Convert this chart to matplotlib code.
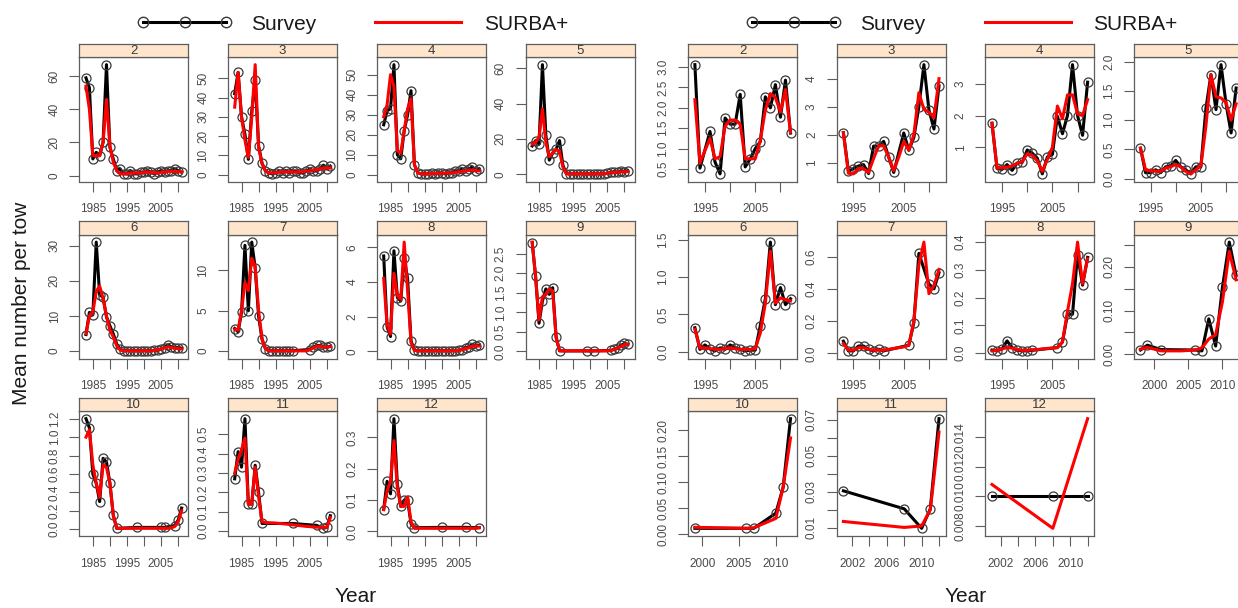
import numpy as np
import matplotlib
matplotlib.use("Agg")
import matplotlib.pyplot as plt
from matplotlib.lines import Line2D

plt.rcParams['font.family'] = ['Liberation Sans', 'DejaVu Sans']

nan = np.nan

# ------------------------------------------------------------------
# Left block: survey index vs SURBA+ fit by age, 1983-2011
# ------------------------------------------------------------------
left_years = list(range(1983, 2012))

left_survey_2 = [59, 53, 10, 14, 12, 20, 67, 17, 10, 3, 4, 1, 1, 3, 1, 1, 2, 2, 3, 2,
                 1, 2, 3, 2, 3, 3, 4, 3, 2]
left_model_2 = [54, 40, 12, 12, 12, 20, 46, 18, 8, 3, 1, 1, 1, 1.5, 1.5, 1.5, 1.5, 2, 2, 2,
                1.5, 1.5, 2, 2, 2.5, 2.5, 2.5, 2.5, 2]

left_survey_3 = [42, 53, 30, 21, 8, 33, 49, 15, 6, 2, 1, 0.5, 1, 2, 1, 2, 1, 2, 2, 1,
                 1, 2, 3, 2, 2, 3, 5, 3, 4.5]
left_model_3 = [35, 53, 30, 18, 9, 30, 57, 14, 6, 2, 1, 1, 1, 1.5, 1.5, 1.5, 1.5, 1.5, 1.5, 1.5,
                1.5, 2, 2, 2.5, 2.5, 3, 3.5, 3.5, 3.5]

left_survey_4 = [25, 32, 33, 55, 10, 8, 22, 30, 42, 5, 1, 0.5, 0.5, 0.5, 1, 0.5, 1, 1, 0.5, 1,
                 1, 2, 2, 3, 2, 3, 4, 2, 3]
left_model_4 = [29, 35, 50, 44, 12, 11, 22, 33, 38, 5, 1, 0.5, 0.5, 0.5, 0.7, 0.7, 0.8, 0.8, 0.8, 1,
                1, 1.2, 1.5, 1.8, 2, 2.2, 2.5, 2, 2]

left_survey_5 = [16, 19, 17, 62, 22, 8, 12, 14, 19, 5, 0.3, 0.2, 0.2, 0.2, 0.2, 0.2, 0.2, 0.2, 0.2, 0.2,
                 0.2, 0.3, 0.5, 1, 1.5, 1, 2, 1.5, 2]
left_model_5 = [17, 18, 21, 37, 18, 10, 12, 14, 13, 4, 0.3, 0.2, 0.2, 0.2, 0.2, 0.2, 0.2, 0.2, 0.2, 0.2,
                0.2, 0.3, 0.5, 0.8, 1, 1.2, 1.3, 1.4, 1.5]

left_survey_6 = [4.7, 11, 10.3, 31, 16, 15.3, 9.7, 7.2, 4.9, 2, 0.5, 0.1, 0.1, 0.1, 0.1, 0.1, 0.1, 0.1,
                 0.1, 0.1, 0.2, 0.3, 0.6, 1.0, 1.8, 1.2, 1.0, 1.0, 0.8]
left_model_6 = [5, 10, 11, 17, 18.5, 15, 10, 6, 4, 1.5, 0.3, 0.05, 0.05, 0.05, 0.05, 0.05, 0.05, 0.05,
                0.05, 0.05, 0.2, 0.4, 0.6, 0.9, 1.2, 1.0, 0.8, 0.7, 0.6]

left_survey_7 = [2.8, 2.4, 4.8, 13.1, 5, 13.5, 10.3, 4.3, 1.5, 0.3, 0.05, 0.05, 0.05, 0.05, 0.05, 0.05,
                 0.05, 0.05, nan, nan, nan, nan, 0.2, 0.5, 0.7, 0.7, 0.5, 0.5, 0.6]
left_model_7 = [2.7, 2.6, 5, 8.5, 7.5, 11.5, 10.5, 5, 1.5, 0.3, 0.03, 0.03, 0.03, 0.03, 0.03, 0.03,
                0.03, 0.03, 0.03, 0.03, 0.03, 0.03, 0.15, 0.4, 0.6, 0.6, 0.5, 0.5, 0.55]

left_survey_8 = [5.5, 1.4, 0.85, 5.8, 3.1, 2.9, 5.4, 4.2, 0.6, 0.05, 0.03, 0.03, 0.03, 0.03, 0.03, 0.03,
                 0.03, 0.03, 0.03, 0.03, 0.03, 0.03, 0.05, 0.1, 0.2, 0.25, 0.4, 0.3, 0.35]
left_model_8 = [4.2, 1.5, 1.0, 4.5, 3.2, 3.0, 6.3, 3.5, 0.5, 0.05, 0.02, 0.02, 0.02, 0.02, 0.02, 0.02,
                0.02, 0.02, 0.02, 0.02, 0.02, 0.02, 0.05, 0.1, 0.15, 0.2, 0.3, 0.3, 0.3]

left_survey_9 = [2.79, 1.92, 0.72, 1.29, 1.6, 1.46, 1.63, 0.37, 0.01, nan, nan, nan, nan, nan, nan, nan,
                 0.01, nan, 0.01, nan, nan, nan, nan, 0.02, 0.05, 0.08, 0.15, 0.2, 0.18]
left_model_9 = [2.8, 1.9, 0.8, 1.4, 1.45, 1.6, 1.55, 0.35, 0.02, 0.01, 0.01, 0.01, 0.01, 0.01, 0.01, 0.01,
                0.01, 0.01, 0.01, 0.01, 0.01, 0.01, 0.01, 0.02, 0.05, 0.08, 0.12, 0.17, 0.18]

left_survey_10 = [1.2, 1.1, 0.6, 0.5, 0.3, 0.77, 0.73, 0.5, 0.15, 0.01, nan, nan, nan, nan, nan, 0.02,
                  nan, nan, nan, nan, nan, nan, 0.02, 0.02, nan, nan, 0.04, 0.1, 0.23]
left_model_10 = [1.0, 1.08, 0.7, 0.5, 0.35, 0.7, 0.67, 0.5, 0.15, 0.01, 0.01, 0.01, 0.01, 0.01, 0.01, 0.01,
                 0.01, 0.01, 0.01, 0.01, 0.01, 0.01, 0.01, 0.01, 0.01, 0.015, 0.03, 0.08, 0.2]

left_survey_11 = [0.27, 0.41, 0.33, 0.58, 0.14, 0.14, 0.34, 0.2, 0.04, nan, nan, nan, nan, nan, nan, nan,
                  nan, 0.04, nan, nan, nan, nan, nan, nan, 0.03, nan, 0.015, 0.02, 0.08]
left_model_11 = [0.3, 0.37, 0.42, 0.48, 0.14, 0.14, 0.33, 0.18, 0.05, 0.045, 0.044, 0.043, 0.042, 0.04,
                 0.039, 0.037, 0.035, 0.033, 0.031, 0.029, 0.027, 0.025, 0.024, 0.022, 0.021, 0.02, 0.02,
                 0.02, 0.07]

left_survey_12 = [0.07, 0.16, 0.12, 0.36, 0.15, 0.08, 0.1, 0.1, 0.025, 0.012, nan, nan, nan, nan, nan, nan,
                  nan, 0.013, nan, nan, nan, nan, nan, nan, 0.013, nan, nan, nan, 0.012]
left_model_12 = [0.07, 0.13, 0.16, 0.29, 0.14, 0.08, 0.08, 0.11, 0.03, 0.01, 0.01, 0.01, 0.01, 0.01, 0.01,
                 0.01, 0.01, 0.01, 0.01, 0.01, 0.01, 0.01, 0.01, 0.01, 0.01, 0.01, 0.01, 0.01, 0.012]

left_xticks = [1985, 1990, 1995, 2000, 2005, 2010]
left_xlabels = ['1985', '', '1995', '', '2005', '']

left_yticks = {
    '2': [0, 20, 40, 60], '3': [0, 10, 20, 30, 40, 50], '4': [0, 10, 20, 30, 40, 50],
    '5': [0, 20, 40, 60], '6': [0, 10, 20, 30], '7': [0, 5, 10], '8': [0, 2, 4, 6],
    '9': [0, 0.5, 1.0, 1.5, 2.0, 2.5], '10': [0, 0.2, 0.4, 0.6, 0.8, 1.0, 1.2],
    '11': [0, 0.1, 0.2, 0.3, 0.4, 0.5], '12': [0, 0.1, 0.2, 0.3],
}
left_ylabels = {
    '2': ['0', '20', '40', '60'], '3': ['0', '10', '20', '30', '40', '50'],
    '4': ['0', '10', '20', '30', '40', '50'], '5': ['0', '20', '40', '60'],
    '6': ['0', '10', '20', '30'], '7': ['0', '5', '10'], '8': ['0', '2', '4', '6'],
    '9': ['0.0', '0.5', '1.0', '1.5', '2.0', '2.5'],
    '10': ['0.0', '0.2', '0.4', '0.6', '0.8', '1.0', '1.2'],
    '11': ['0.0', '0.1', '0.2', '0.3', '0.4', '0.5'], '12': ['0.0', '0.1', '0.2', '0.3'],
}

# ------------------------------------------------------------------
# Right block: survey index vs SURBA+ fit by age, 1993-2012
# ------------------------------------------------------------------
right_years = list(range(1993, 2013))

right_survey_2 = [3.06, 0.52, nan, 1.42, 0.67, 0.38, 1.75, 1.6, 1.6, 2.33, 0.55, 0.75, 1.0, 1.17,
                  2.27, 2.0, 2.57, 1.77, 2.68, 1.38]
right_model_2 = [2.2, 0.65, 0.95, 1.25, 0.75, 0.8, 1.55, 1.7, 1.7, 1.6, 0.75, 0.75, 0.75, 1.2,
                 1.95, 2.35, 2.25, 1.9, 2.45, 1.4]

right_survey_3 = [2.07, 0.69, 0.79, 0.88, 0.93, 0.61, 1.59, 1.59, 1.76, 1.2, 0.65, nan, 2.06, 1.44,
                  1.9, 3.0, 4.5, 2.88, 2.2, 3.74]
right_model_3 = [2.07, 0.62, 0.6, 0.8, 0.78, 0.65, 1.15, 1.6, 1.6, 1.2, 0.72, 1.2, 1.75, 1.45,
                 2.0, 3.5, 2.9, 2.8, 2.6, 4.0]

right_survey_4 = [1.76, 0.34, 0.31, 0.46, 0.28, 0.51, 0.53, 0.92, 0.82, 0.66, 0.17, 0.7, 0.78, 1.98,
                  1.43, 2.0, 3.6, 2.0, 1.38, 3.05]
right_model_4 = [1.76, 0.35, 0.36, 0.38, 0.42, 0.5, 0.55, 0.8, 0.75, 0.58, 0.25, 0.62, 1.0, 2.3,
                 1.9, 2.65, 2.65, 2.05, 2.0, 2.5]

right_survey_5 = [0.52, 0.1, 0.1, 0.15, 0.1, 0.2, 0.22, 0.31, 0.2, 0.15, 0.08, 0.2, 0.2, 1.2,
                  1.78, 1.18, 1.95, 1.28, 0.78, 1.55]
right_model_5 = [0.52, 0.15, 0.13, 0.13, 0.12, 0.18, 0.2, 0.24, 0.2, 0.12, 0.08, 0.15, 0.22, 0.9,
                 1.78, 1.4, 1.38, 1.3, 1.0, 1.28]

right_survey_6 = [0.32, 0.03, 0.09, 0.035, 0.01, 0.05, 0.03, 0.09, 0.05, 0.03, 0.01, 0.02, 0.02, 0.35,
                  0.71, 1.47, 0.63, 0.86, 0.63, 0.71]
right_model_6 = [0.3, 0.05, 0.05, 0.04, 0.03, 0.03, 0.04, 0.05, 0.04, 0.03, 0.03, 0.03, 0.04, 0.25,
                 0.65, 1.35, 0.65, 0.72, 0.7, 0.68]

right_survey_7 = [0.075, 0.015, 0.015, 0.045, 0.045, 0.025, 0.015, 0.025, 0.015, nan, nan, nan, nan,
                  0.05, 0.19, 0.62, nan, 0.43, 0.40, 0.5]
right_model_7 = [0.06, 0.02, 0.02, 0.035, 0.035, 0.025, 0.02, 0.02, 0.02, 0.025, 0.03, 0.035, 0.04,
                 0.05, 0.2, 0.55, 0.69, 0.37, 0.42, 0.52]

right_survey_8 = [0.011, 0.008, 0.015, 0.044, 0.02, 0.01, 0.008, 0.008, 0.01, nan, nan, nan, nan,
                  0.02, 0.04, 0.14, 0.14, 0.355, 0.245, 0.345]
right_model_8 = [0.008, 0.01, 0.015, 0.02, 0.018, 0.012, 0.01, 0.01, 0.012, 0.013, 0.015, 0.017, 0.018,
                 0.02, 0.04, 0.15, 0.25, 0.4, 0.25, 0.34]

right_years_9 = list(range(1998, 2013))
right_survey_9 = [0.01, 0.021, nan, 0.011, nan, nan, nan, nan, 0.01, 0.008, 0.081, 0.019, 0.153,
                  0.256, 0.18]
right_model_9 = [0.012, 0.016, 0.012, 0.008, 0.008, 0.008, 0.008, 0.009, 0.01, 0.015, 0.035, 0.045,
                 0.12, 0.235, 0.17]

right_years_10 = [1999, 2006, 2007, 2010, 2011, 2012]
right_survey_10 = [0.011, 0.011, 0.011, 0.04, 0.09, 0.222]
right_model_10 = [0.013, 0.011, 0.012, 0.03, 0.09, 0.185]

right_years_11 = [2001, 2008, 2010, 2011, 2012]
right_survey_11 = [0.0305, 0.0205, 0.0097, 0.0205, 0.0705]
right_model_11 = [0.0135, 0.0102, 0.0110, 0.0200, 0.0630]

right_years_12 = [2001, 2008, 2012]
right_survey_12 = [0.010, 0.010, 0.010]
right_model_12 = [0.0108, 0.00787, 0.0152]

right_xticks = [1995, 2000, 2005, 2010]
right_xlabels = ['1995', '', '2005', '']
right_xticks_9 = [2000, 2005, 2010]
right_xlabels_9 = ['2000', '2005', '2010']
right_xticks_11 = [2002, 2004, 2006, 2008, 2010, 2012]
right_xlabels_11 = ['2002', '', '2006', '', '2010', '']

right_yticks = {
    '2': [0.5, 1.0, 1.5, 2.0, 2.5, 3.0], '3': [1, 2, 3, 4], '4': [1, 2, 3],
    '5': [0.0, 0.5, 1.0, 1.5, 2.0], '6': [0.0, 0.5, 1.0, 1.5], '7': [0.0, 0.2, 0.4, 0.6],
    '8': [0.0, 0.1, 0.2, 0.3, 0.4], '9': [0.0, 0.05, 0.10, 0.15, 0.20, 0.25],
    '10': [0.0, 0.05, 0.10, 0.15, 0.20], '11': [0.01, 0.02, 0.03, 0.04, 0.05, 0.06, 0.07],
    '12': [0.008, 0.010, 0.012, 0.014],
}
right_ylabels = {
    '2': ['0.5', '1.0', '1.5', '2.0', '2.5', '3.0'], '3': ['1', '2', '3', '4'], '4': ['1', '2', '3'],
    '5': ['0.0', '0.5', '1.0', '1.5', '2.0'], '6': ['0.0', '0.5', '1.0', '1.5'],
    '7': ['0.0', '0.2', '0.4', '0.6'], '8': ['0.0', '0.1', '0.2', '0.3', '0.4'],
    '9': ['0.00', '', '0.10', '', '0.20', ''],
    '10': ['0.00', '0.05', '0.10', '0.15', '0.20'],
    '11': ['0.01', '', '0.03', '', '0.05', '', '0.07'],
    '12': ['0.008', '0.010', '0.012', '0.014'],
}

ages = ['2', '3', '4', '5', '6', '7', '8', '9', '10', '11', '12']

# ------------------------------------------------------------------
# Figure and panel geometry (pixel layout of a 1238 x 608 canvas)
# ------------------------------------------------------------------
FIG_W, FIG_H = 1238, 608
fig = plt.figure(figsize=(FIG_W / 100, FIG_H / 100), dpi=100)

PANEL_W = 109
STRIP_H = 13.5
row_top = [57, 234.5, 411]
row_bottom = [181.5, 358.5, 536]
left_cols = [79.3, 228, 377, 525.5]
right_cols = [688.2, 836.7, 985.3, 1133.8]
grid = [(0, 0), (0, 1), (0, 2), (0, 3), (1, 0), (1, 1), (1, 2), (1, 3), (2, 0), (2, 1), (2, 2)]

EDGE = '#5e5e5e'
TXT = '#4a4a4a'
STRIP_BG = '#FFE5CC'
SURVEY_COL = 'black'
MODEL_COL = '#ff0000'


def add_px_axes(x0, y_top, w, h):
    return fig.add_axes([x0 / FIG_W, 1 - (y_top + h) / FIG_H, w / FIG_W, h / FIG_H])


def padded(vals, frac=0.07):
    lo, hi = np.nanmin(vals), np.nanmax(vals)
    d = (hi - lo) * frac
    return lo - d, hi + d


def draw_panel(x0, row, age, yrs_s, surv, yrs_m, model, yticks, ylabels, xticks, xlabels):
    top, bot = row_top[row], row_bottom[row]
    ax = add_px_axes(x0, top, PANEL_W, bot - top)
    st = add_px_axes(x0, top - STRIP_H, PANEL_W, STRIP_H)

    ys = np.asarray(yrs_s, float)
    s = np.asarray(surv, float)
    ym = np.asarray(yrs_m, float)
    m = np.asarray(model, float)
    ks, km = np.isfinite(s), np.isfinite(m)

    ax.plot(ys[ks], s[ks], color=SURVEY_COL, lw=2.2, marker='o', ms=6.5,
            mfc='none', mec='#3a3a3a', mew=0.9, zorder=2)
    ax.plot(ym[km], m[km], color=MODEL_COL, lw=2.2, zorder=3)

    ax.set_xlim(*padded(np.concatenate([ys[ks], ym[km]])))
    ax.set_ylim(*padded(np.concatenate([s[ks], m[km]])))

    ax.set_xticks(xticks)
    ax.set_xticklabels(xlabels)
    ax.set_yticks(yticks)
    ax.set_yticklabels(ylabels, rotation=90, va='center')
    ax.tick_params(axis='both', direction='out', length=7.5, width=0.8,
                   color=EDGE, labelcolor=TXT, labelsize=8.5)
    ax.tick_params(axis='x', pad=8)
    ax.tick_params(axis='y', pad=6)
    for sp in ax.spines.values():
        sp.set_color(EDGE)
        sp.set_linewidth(0.9)

    st.set_facecolor(STRIP_BG)
    st.set_xticks([])
    st.set_yticks([])
    for sp in st.spines.values():
        sp.set_color(EDGE)
        sp.set_linewidth(0.9)
    st.text(0.5, 0.45, age, ha='center', va='center', fontsize=9.5,
            color='#3a3a3a', transform=st.transAxes)


# left block
for age, (r, c) in zip(ages, grid):
    draw_panel(left_cols[c], r, age,
               left_years, globals()['left_survey_' + age],
               left_years, globals()['left_model_' + age],
               left_yticks[age], left_ylabels[age], left_xticks, left_xlabels)

# right block
right_series = {
    '9': (right_years_9, right_survey_9, right_model_9, right_xticks_9, right_xlabels_9),
    '10': (right_years_10, right_survey_10, right_model_10, right_xticks_9, right_xlabels_9),
    '11': (right_years_11, right_survey_11, right_model_11, right_xticks_11, right_xlabels_11),
    '12': (right_years_12, right_survey_12, right_model_12, right_xticks_11, right_xlabels_11),
}
for age, (r, c) in zip(ages, grid):
    if age in right_series:
        yrs, sv, md, xt, xl = right_series[age]
    else:
        yrs, sv, md, xt, xl = (right_years, globals()['right_survey_' + age],
                               globals()['right_model_' + age], right_xticks, right_xlabels)
    draw_panel(right_cols[c], r, age, yrs, sv, yrs, md,
               right_yticks[age], right_ylabels[age], xt, xl)


# legends (drawn in figure pixel coordinates)
def fx(px):
    return px / FIG_W


def fy(py):
    return 1 - py / FIG_H


for (c0, c1, t0, r0, r1, t1) in [(143, 226, 251, 375, 461, 484),
                                 (752, 835, 860, 985, 1071, 1093)]:
    fig.add_artist(Line2D([fx(c0), fx((c0 + c1) / 2), fx(c1)], [fy(22)] * 3,
                          transform=fig.transFigure, color='black', lw=2.2,
                          marker='o', ms=7.5, mfc='none', mec='#3a3a3a', mew=1.0))
    fig.text(fx(t0), fy(24), 'Survey', fontsize=15, va='center', ha='left', color='#1a1a1a')
    fig.add_artist(Line2D([fx(r0), fx(r1)], [fy(22)] * 2, transform=fig.transFigure,
                          color=MODEL_COL, lw=2.2))
    fig.text(fx(t1), fy(24), 'SURBA+', fontsize=15, va='center', ha='left', color='#1a1a1a')

fig.text(fx(22), fy(303), 'Mean number per tow', rotation=90, fontsize=15,
         ha='center', va='center', color='#1a1a1a')
fig.text(fx(356), fy(597), 'Year', fontsize=15, ha='center', va='center', color='#1a1a1a')
fig.text(fx(966), fy(597), 'Year', fontsize=15, ha='center', va='center', color='#1a1a1a')

fig.savefig('out.png', dpi=100, facecolor='white')
